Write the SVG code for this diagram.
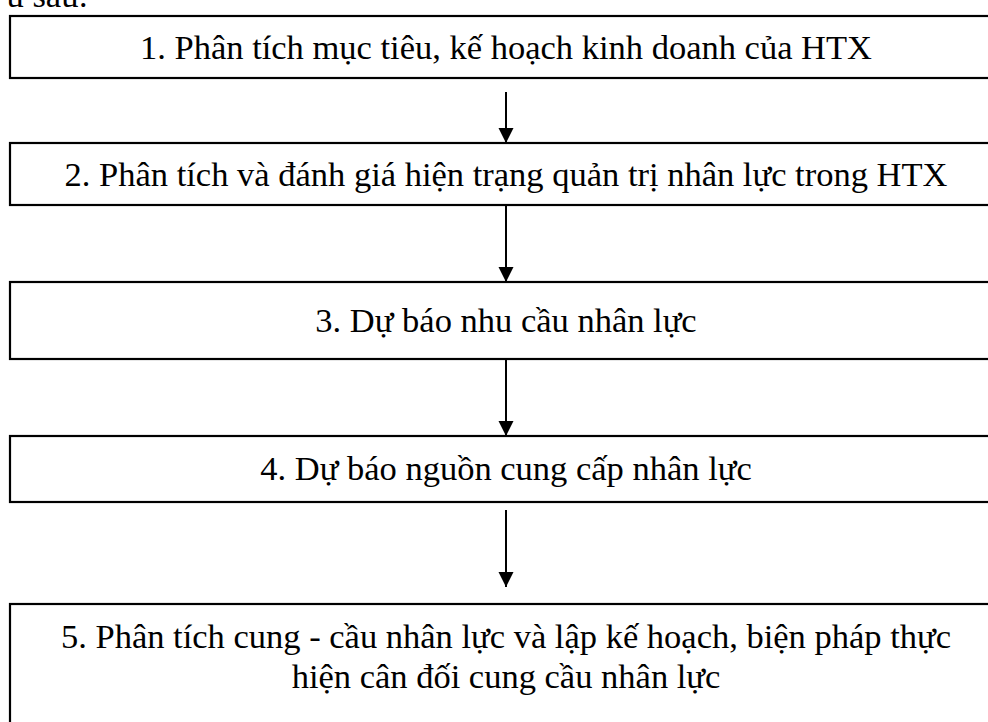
<svg xmlns="http://www.w3.org/2000/svg" width="988" height="722" viewBox="0 0 988 722">
<style>
.box{fill:#fff;stroke:#000;stroke-width:2.2}
.t{font-family:"Liberation Serif","Times New Roman",serif;font-size:34.5px;fill:#000;text-anchor:middle}
.c{stroke:#000;stroke-width:2;fill:none}
</style>
<defs>
<marker id="ah" markerUnits="userSpaceOnUse" markerWidth="16" markerHeight="16" viewBox="0 0 16 16" refX="15" refY="7.5" orient="auto">
<path d="M0,0 L15,7.5 L0,15 z" fill="#000"/>
</marker>
</defs>
<rect width="988" height="722" fill="#fff"/>
<text class="t" x="88" y="7" style="text-anchor:end">u sau:</text>
<g id="n1"><rect class="box" x="10" y="16" width="992" height="62"/><text class="t" x="506" y="58.5">1. Phân tích mục tiêu, kế hoạch kinh doanh của HTX</text></g>
<g id="n2"><rect class="box" x="10" y="143" width="992" height="62"/><text class="t" x="506" y="186">2. Phân tích và đánh giá hiện trạng quản trị nhân lực trong HTX</text></g>
<g id="n3"><rect class="box" x="10" y="282" width="992" height="77"/><text class="t" x="506" y="332">3. Dự báo nhu cầu nhân lực</text></g>
<g id="n4"><rect class="box" x="10" y="436" width="992" height="66"/><text class="t" x="506" y="480">4. Dự báo nguồn cung cấp nhân lực</text></g>
<g id="n5"><rect class="box" x="10" y="604" width="992" height="130"/><text class="t" x="506" y="648">5. Phân tích cung - cầu nhân lực và lập kế hoạch, biện pháp thực</text><text class="t" x="506" y="688">hiện cân đối cung cầu nhân lực</text></g>
<g id="connectors">
<line class="c" x1="506" y1="92" x2="506" y2="143" marker-end="url(#ah)"/>
<line class="c" x1="506" y1="205" x2="506" y2="282" marker-end="url(#ah)"/>
<line class="c" x1="506" y1="359" x2="506" y2="436" marker-end="url(#ah)"/>
<line class="c" x1="506" y1="510" x2="506" y2="587" marker-end="url(#ah)"/>
</g>
</svg>
